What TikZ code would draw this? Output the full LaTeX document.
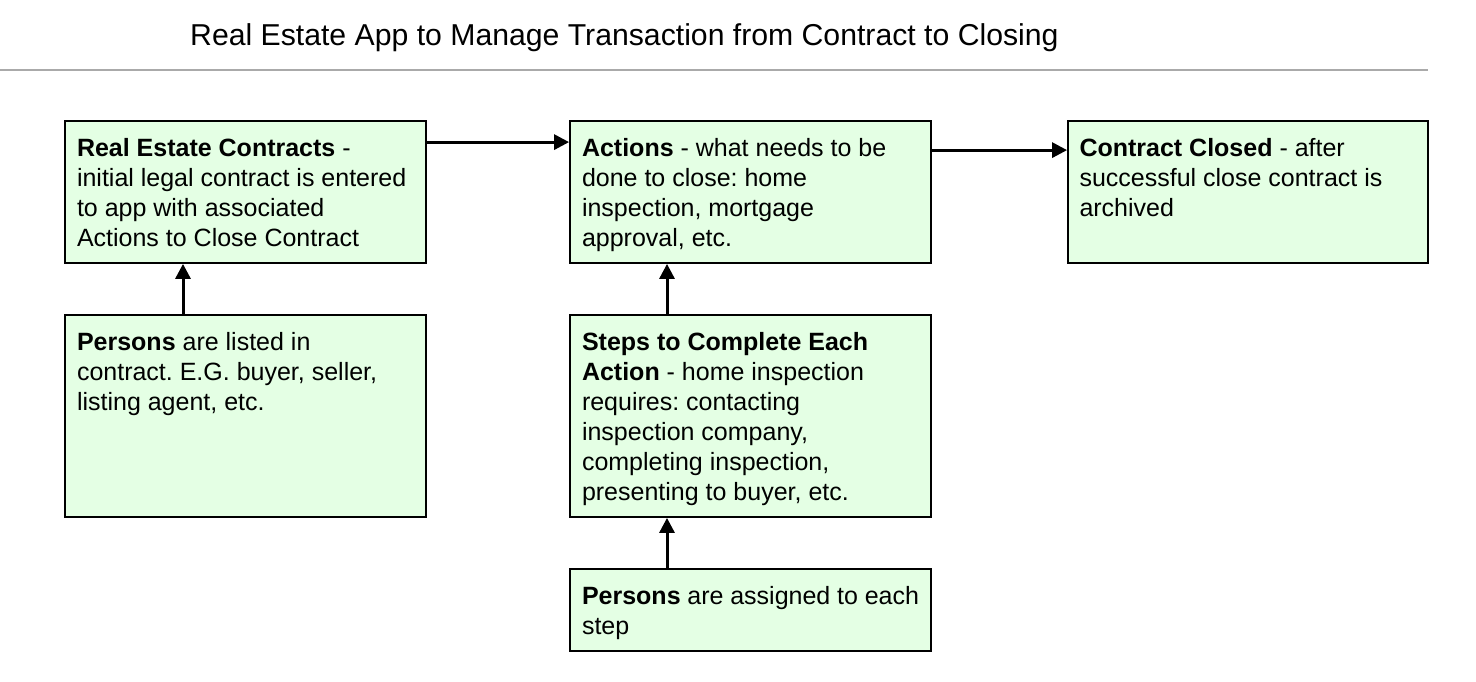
\documentclass[tikz,border=0pt]{standalone}
\usepackage{fontspec}
\setmainfont{Liberation Sans}
\usetikzlibrary{arrows.meta,calc}
\frenchspacing
\definecolor{boxfill}{RGB}{228,255,228}
\definecolor{rulegray}{RGB}{170,170,170}
\newcommand\bxtext[2]{\parbox[c][#1][t]{337pt}{\raggedright\frenchspacing\fontsize{25}{30}\selectfont\rule{0pt}{23pt}#2}}
\tikzset{
  box/.style={draw=black, line width=1.8pt, fill=boxfill, inner sep=0pt, minimum width=361pt},
  conn/.style={line width=3pt, -{Triangle[length=15pt,width=15pt]}},
}
\begin{document}
\begin{tikzpicture}[x=1pt,y=-1pt]
\useasboundingbox (0,0) rectangle (1476,682);
\node[anchor=base west, inner sep=0pt, font=\fontsize{30.2}{34}\selectfont] (title) at (190,46) {Real Estate App to Manage Transaction from Contract to Closing};
\coordinate (rl) at (0,70);
\coordinate (rr) at (1428,70);
\draw[rulegray, line width=1.3pt] (rl) -- (rr);

\node[box, minimum height=142pt] (A) at (245.5,192) {\bxtext{118pt}{\textbf{Real Estate Contracts} -\\ initial legal contract is entered\\ to app with associated\\ Actions to Close Contract}};
\node[box, minimum height=142pt] (B) at (750.5,192) {\bxtext{118pt}{\textbf{Actions} - what needs to be\\ done to close: home\\ inspection, mortgage\\ approval, etc.}};
\node[box, minimum height=142pt, minimum width=360pt] (C) at (1248,192) {\bxtext{118pt}{\textbf{Contract Closed} - after\\ successful close contract is\\ archived}};
\node[box, minimum height=202pt] (D) at (245.5,416) {\bxtext{178pt}{\textbf{Persons} are listed in\\ contract. E.G. buyer, seller,\\ listing agent, etc.}};
\node[box, minimum height=202pt] (E) at (750.5,416) {\bxtext{178pt}{\textbf{Steps to Complete Each}\\ \textbf{Action} - home inspection\\ requires: contacting\\ inspection company,\\ completing inspection,\\ presenting to buyer, etc.}};
\node[box, minimum height=82pt] (F) at (750.5,610) {\bxtext{58pt}{\textbf{Persons} are assigned to each\\ step}};

\draw[conn] ($(A.north east)+(0,22)$) -- ($(B.north west)+(0,22)$);
\draw[conn] ($(B.north east)+(0,30)$) -- ($(C.north west)+(0,30)$);
\draw[conn] ($(D.north)+(-62.5,0)$) -- ($(A.south)+(-62.5,0)$);
\draw[conn] ($(E.north)+(-83.5,0)$) -- ($(B.south)+(-83.5,0)$);
\draw[conn] ($(F.north)+(-83.5,0)$) -- ($(E.south)+(-83.5,0)$);
\end{tikzpicture}
\end{document}
